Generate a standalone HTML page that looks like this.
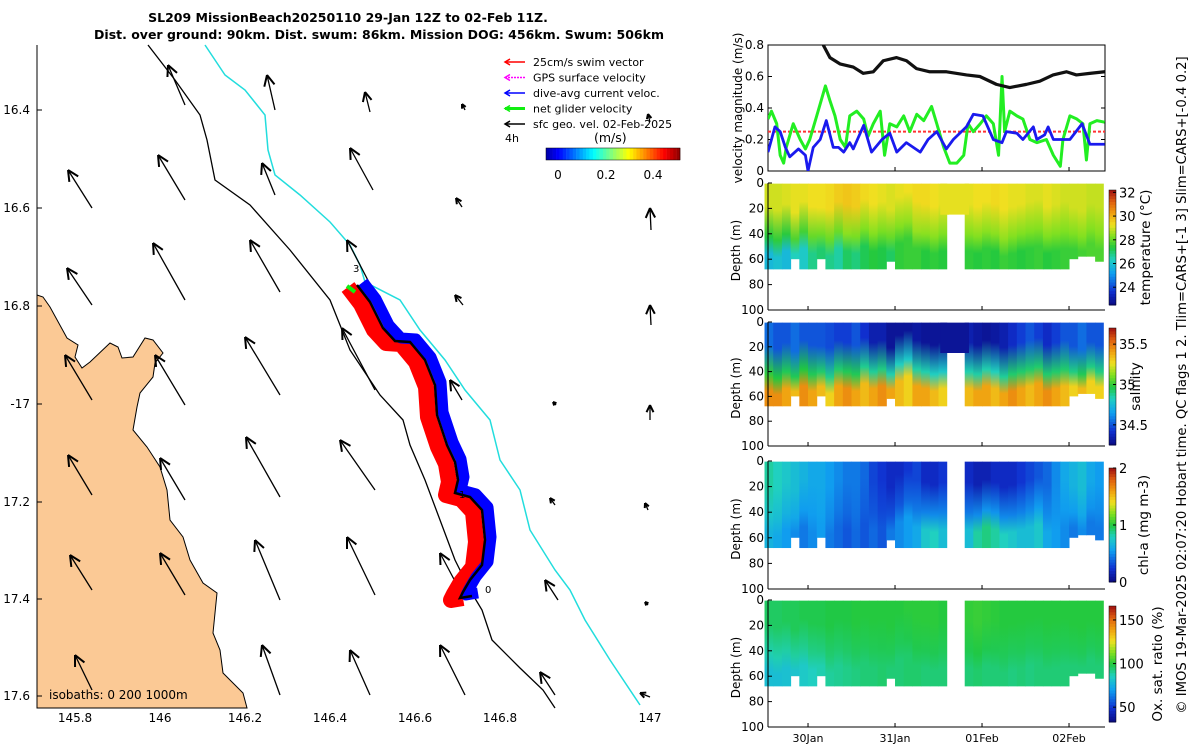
<!DOCTYPE html>
<html><head><meta charset="utf-8"><style>
body{margin:0;background:#fff;font-family:"DejaVu Sans","Liberation Sans",sans-serif}
svg text{font-family:"DejaVu Sans","Liberation Sans",sans-serif}
</style></head><body>
<svg id="s" width="1200" height="750" viewBox="0 0 1200 750" xmlns="http://www.w3.org/2000/svg">
<g font-weight="bold" font-size="12.5" text-anchor="middle">
<text x="348" y="22">SL209 MissionBeach20250110 29-Jan 12Z to 02-Feb 11Z.</text>
<text x="379" y="39">Dist. over ground: 90km. Dist. swum: 86km. Mission DOG: 456km. Swum: 506km</text>
</g>
<g id="map"></g>
<g id="ts"></g>
<g id="hm"></g>
<text transform="translate(1186,385) rotate(-90)" text-anchor="middle" font-size="13.2">© IMOS 19-Mar-2025 02:07:20 Hobart time. QC flags 1  2. Tlim=CARS+[-1 3] Slim=CARS+[-0.4 0.2]</text>
</svg>
<script>
// ---------- velocity time series data (days from 30-Jan 00Z) ----------
const tBlack=[0.175,0.252,0.367,0.52,0.635,0.75,0.865,1.018,1.132,1.247,1.40,1.592,1.822,1.975,2.166,2.319,2.51,2.664,2.817,2.97,3.085,3.238,3.41];
const vBlack=[0.8,0.72,0.68,0.66,0.62,0.63,0.70,0.72,0.70,0.65,0.63,0.63,0.61,0.60,0.55,0.53,0.55,0.57,0.61,0.63,0.61,0.62,0.63];
const tGreen=[-0.46,-0.42,-0.36,-0.32,-0.28,-0.25,-0.17,-0.09,-0.03,0.02,0.10,0.20,0.25,0.31,0.37,0.43,0.48,0.56,0.64,0.69,0.75,0.83,0.88,0.94,1.02,1.10,1.17,1.25,1.33,1.42,1.48,1.56,1.63,1.71,1.79,1.84,1.90,1.98,2.05,2.13,2.19,2.23,2.26,2.32,2.40,2.47,2.55,2.63,2.74,2.82,2.90,2.93,3.01,3.09,3.16,3.20,3.24,3.32,3.41];
const vGreen=[0.33,0.38,0.30,0.10,0.05,0.15,0.30,0.20,0.14,0.20,0.35,0.54,0.45,0.35,0.20,0.15,0.35,0.38,0.33,0.22,0.30,0.38,0.10,0.30,0.28,0.35,0.25,0.36,0.32,0.41,0.30,0.15,0.05,0.05,0.10,0.30,0.25,0.30,0.35,0.30,0.10,0.60,0.25,0.38,0.35,0.33,0.20,0.18,0.20,0.10,0.03,0.20,0.35,0.33,0.30,0.07,0.30,0.32,0.31];
const tBlue=[-0.46,-0.38,-0.32,-0.26,-0.21,-0.11,-0.03,0.00,0.06,0.14,0.21,0.29,0.35,0.41,0.48,0.52,0.64,0.73,0.85,0.94,1.02,1.13,1.29,1.38,1.48,1.59,1.67,1.82,1.90,2.01,2.13,2.23,2.28,2.40,2.47,2.59,2.63,2.72,2.76,2.82,2.90,3.01,3.15,3.24,3.41];
const vBlue=[0.12,0.28,0.25,0.15,0.09,0.14,0.10,0.00,0.15,0.20,0.32,0.15,0.15,0.12,0.18,0.14,0.29,0.12,0.20,0.24,0.12,0.18,0.12,0.20,0.25,0.14,0.20,0.28,0.36,0.35,0.20,0.18,0.25,0.24,0.20,0.28,0.20,0.23,0.28,0.20,0.20,0.20,0.30,0.17,0.17];
const swimSpeed=[0.25];
const vTicks=[0,0.2,0.4,0.6,0.8];
const dateTicks=[0,1,2,3];
const dateLabels=['30Jan','31Jan','01Feb','02Feb'];
// ---------- profile data (columns) ----------
const colT=[-0.45,-0.35,-0.25,-0.15,-0.05,0.05,0.15,0.25,0.35,0.45,0.55,0.65,0.75,0.85,0.95,1.05,1.15,1.25,1.35,1.45,1.55,1.85,1.95,2.05,2.15,2.25,2.35,2.45,2.55,2.65,2.75,2.85,2.95,3.05,3.15,3.25,3.35];
const mld=[42,45,40,44,38,42,40,44,38,40,42,36,40,38,42,34,30,38,40,42,40,40,42,38,40,44,42,40,38,36,42,40,38,40,42,36,40];
const bottom=[68,68,68,60,68,68,60,68,68,68,68,68,68,68,62,68,68,68,68,68,68,68,68,68,68,68,68,68,68,68,68,68,68,60,58,58,62];
const tempSurf=[29.0,29.0,29.1,29.2,29.2,29.3,29.3,29.4,29.6,29.7,29.6,29.4,29.3,29.2,29.1,29.2,29.3,29.4,29.4,29.3,29.2,29.2,29.3,29.3,29.4,29.3,29.2,29.2,29.1,29.1,29.2,29.1,29.0,29.0,29.0,28.9,28.9];
const tempDeep=[25.8,26.0,25.8,26.4,26.2,26.8,27.0,26.8,26.6,27.1,26.9,27.2,27.4,27.3,27.1,27.5,27.6,27.6,27.4,27.5,27.4,27.5,27.4,27.5,27.4,27.6,27.5,27.4,27.5,27.6,27.4,27.5,27.6,27.6,27.7,27.8,27.8];
const salSurf=[34.55,34.5,34.5,34.55,34.5,34.5,34.5,34.48,34.45,34.45,34.5,34.42,34.35,34.35,34.3,34.3,34.3,34.32,34.3,34.3,34.3,34.35,34.32,34.3,34.32,34.35,34.4,34.45,34.5,34.45,34.4,34.45,34.5,34.5,34.55,34.5,34.5];
const salDeep=[35.45,35.45,35.4,35.35,35.45,35.4,35.35,35.3,35.4,35.45,35.4,35.35,35.4,35.45,35.4,35.35,35.3,35.4,35.4,35.35,35.3,35.35,35.4,35.4,35.35,35.4,35.45,35.4,35.35,35.4,35.45,35.4,35.35,35.3,35.35,35.3,35.3];
const chlSurf=[0.85,0.8,0.75,0.7,0.65,0.6,0.6,0.55,0.5,0.45,0.45,0.4,0.3,0.25,0.2,0.2,0.25,0.3,0.2,0.2,0.25,0.2,0.15,0.15,0.2,0.2,0.2,0.25,0.3,0.35,0.4,0.5,0.6,0.65,0.7,0.6,0.55];
const chlDeep=[0.65,0.6,0.55,0.5,0.45,0.5,0.55,0.45,0.4,0.35,0.4,0.35,0.4,0.35,0.45,0.5,0.55,0.6,0.75,0.8,0.7,0.7,0.85,0.9,0.85,0.8,0.75,0.7,0.7,0.75,0.6,0.55,0.5,0.45,0.5,0.45,0.45];
const oxySurf=[96,96,97,97,98,98,98,99,99,99,100,100,100,100,100,100,101,101,101,101,100,102,103,102,101,100,100,100,100,100,100,100,100,100,100,100,100];
const oxyDeep=[80,80,81,82,84,86,88,90,91,92,93,94,94,95,94,94,95,95,94,94,94,94,95,94,94,94,93,94,93,94,94,94,94,94,94,94,94];
const gapT=[1.57,1.80];

const NS='http://www.w3.org/2000/svg';
function el(tag,attrs,parent){const e=document.createElementNS(NS,tag);for(const k in attrs)e.setAttribute(k,attrs[k]);parent.appendChild(e);return e;}
const cmapStops=[[0,[10,10,128]],[0.12,[16,48,208]],[0.28,[16,160,240]],[0.4,[32,208,192]],[0.5,[32,200,64]],[0.6,[128,224,32]],[0.7,[240,224,32]],[0.8,[240,160,16]],[0.9,[224,96,16]],[1,[160,16,16]]];
function jet(v){v=Math.max(0,Math.min(1,v));for(let i=1;i<cmapStops.length;i++){if(v<=cmapStops[i][0]){const a=cmapStops[i-1],b=cmapStops[i],f=(v-a[0])/(b[0]-a[0]);const c=a[1].map((x,k)=>Math.round(x+(b[1][k]-x)*f));return `rgb(${c[0]},${c[1]},${c[2]})`;}}return 'rgb(160,16,16)';}
function speedMap(v){v=Math.max(0,Math.min(1,v));const r=Math.max(0,Math.min(1,1.5-Math.abs(4*v-3))),g=Math.max(0,Math.min(1,1.5-Math.abs(4*v-2))),b=Math.max(0,Math.min(1,1.5-Math.abs(4*v-1)));return `rgb(${Math.round(r*255)},${Math.round(g*255)},${Math.round(b*255)})`;}
const X0=768,X1=1105;
function tx(t){return X0+(t+0.46)*87;}

// ---------- MAP ----------
const map=document.getElementById('map');
const coast=[[37,295],[43,297],[50,307],[67,338],[78,345],[75,357],[82,368],[90,362],[110,343],[118,347],[122,358],[133,357],[145,338],[153,340],[163,353],[155,363],[153,377],[140,393],[137,407],[133,430],[147,447],[160,467],[167,490],[170,520],[183,537],[190,560],[203,583],[217,593],[213,633],[220,650],[223,673],[243,693],[247,708],[37,708]];
let land=el('polygon',{points:coast.map(p=>p.join(',')).join(' '),fill:'#fbc995',stroke:'#000','stroke-width':1},map);

el('polyline',{points:'37,45 37,708',stroke:'#000','stroke-width':1,fill:'none'},map);
const iso200=[[148,45],[175,80],[200,115],[207,140],[215,180],[250,205],[290,250],[330,300],[350,350],[380,395],[403,420],[410,445],[425,480],[440,520],[455,560],[470,590],[482,610],[492,640],[520,668],[543,690],[555,708]];
let p1=el('polyline',{points:iso200.map(p=>p.join(',')).join(' '),stroke:'#000','stroke-width':1.3,fill:'none'},map);

const iso1000=[[205,45],[225,75],[245,90],[265,115],[268,150],[275,175],[300,195],[330,222],[350,245],[360,265],[365,282],[400,300],[420,330],[445,360],[465,390],[490,420],[500,460],[520,490],[530,530],[555,570],[570,590],[585,620],[610,660],[640,705]];
let p2=el('polyline',{points:iso1000.map(p=>p.join(',')).join(' '),stroke:'#22dddd','stroke-width':1.5,fill:'none'},map);

const arrows=[[185,105,168,65],[275,110,267,75],[370,112,365,92],[465,110,462,104],[650,122,648,114],
[92,208,68,170],[185,200,158,155],[275,195,262,163],[373,190,350,148],[462,207,456,198],[651,230,650,208],
[92,305,67,268],[185,300,153,243],[280,292,250,240],[373,290,347,240],[463,305,455,295],[651,325,650,305],
[92,400,65,355],[185,405,155,355],[280,395,245,337],[375,390,342,328],[462,400,450,380],[556,405,553,402],[650,420,650,405],
[92,495,68,455],[185,500,160,458],[280,497,246,437],[375,490,340,440],[465,497,447,470],[555,505,550,498],[648,510,645,503],
[92,590,70,555],[185,595,160,553],[280,600,255,540],[375,595,347,537],[465,600,440,553],[558,600,545,580],[648,605,645,602],
[92,690,75,655],[280,695,262,645],[370,695,350,650],[465,695,440,645],[555,695,540,672],[650,697,640,693]];
arrows.forEach(a=>{const g=el('g',{},map);

const dx=a[2]-a[0],dy=a[3]-a[1],L=Math.hypot(dx,dy),ux=dx/L,uy=dy/L,h=Math.min(12,L*0.4+2);
el('line',{x1:a[0],y1:a[1],x2:a[2],y2:a[3],stroke:'#000','stroke-width':1.3},g);
const ang=0.45;[ang,-ang].forEach(s=>{const c=Math.cos(s),sn=Math.sin(s);const bx=-(ux*c-uy*sn)*h,by=-(ux*sn+uy*c)*h;
el('line',{x1:a[2],y1:a[3],x2:a[2]+bx,y2:a[3]+by,stroke:'#000','stroke-width':2},g);});});
const track=[[357,285],[370,302],[383,328],[395,341],[410,342],[425,360],[435,385],[437,415],[447,445],[455,462],[458,480],[455,493],[470,497],[482,510],[485,540],[482,565],[470,580],[463,592],[460,598],[472,596]];
const tp=track.map(p=>p.join(',')).join(' ');
let tr=el('polyline',{points:track.map(p=>(p[0]-9)+','+(p[1]+2)).join(' '),stroke:'#f00','stroke-width':16,fill:'none','stroke-linejoin':'round'},map);

let tb=el('polyline',{points:track.map(p=>(p[0]+6)+','+(p[1]-3)).join(' '),stroke:'#00f','stroke-width':11,fill:'none','stroke-linejoin':'round'},map);

let tk=el('polyline',{points:tp,stroke:'#000','stroke-width':2.5,fill:'none'},map);

el('line',{x1:355,y1:292,x2:347,y2:286,stroke:'#1e1','stroke-width':4},map);
[['3',353,272],['1',459,498],['0',485,593]].forEach(d=>{el('text',{x:d[1],y:d[2],'font-size':10},map).textContent=d[0];});
[['145.8',75],['146',160],['146.2',245],['146.4',330],['146.6',415],['146.8',500],['147',650]].forEach(l=>{const t=el('text',{x:l[1],y:722,'font-size':12,'text-anchor':'middle'},map);t.textContent=l[0];});
[['16.4',114],['16.6',212],['16.8',310],['-17',408],['17.2',506],['17.4',603],['17.6',700]].forEach(l=>{const t=el('text',{x:30,y:l[1],'font-size':12,'text-anchor':'end'},map);t.textContent=l[0];el('line',{x1:37,x2:42,y1:l[1]-4,y2:l[1]-4,stroke:'#000'},map);});
let iso=el('text',{x:49,y:699,'font-size':12},map);iso.textContent='isobaths: 0   200  1000m';
const leg=[['25cm/s swim vector','#f00',''],['GPS surface velocity','#f0f','2,1'],['dive-avg current veloc.','#00f',''],['net glider velocity','#1e1',''],['sfc geo. vel. 02-Feb-2025','#000','']];
leg.forEach((l,i)=>{const g=el('g',{},map);
const y=62+i*15.5;el('line',{x1:505,x2:525,y1:y,y2:y,stroke:l[1],'stroke-width':i==3?3:1.5,'stroke-dasharray':l[2]},g);
el('polyline',{points:`510,${y-3} 505,${y} 510,${y+3}`,fill:'none',stroke:l[1],'stroke-width':1.5},g);
el('text',{x:533,y:y+4,'font-size':11},g).textContent=l[0];});
el('text',{x:505,y:142,'font-size':11},map).textContent='4h';
el('text',{x:594,y:142,'font-size':12.5},map).textContent='(m/s)';
const cb=el('g',{},map);
for(let i=0;i<40;i++)el('rect',{x:546+i*3.35,y:148,width:3.6,height:12,fill:speedMap(0.05+i/40*0.95)},cb);
el('rect',{x:546,y:148,width:134,height:12,fill:'none',stroke:'#000','stroke-width':0.5},cb);
[['0',558],['0.2',606],['0.4',653]].forEach(l=>{el('text',{x:l[1],y:179,'font-size':12,'text-anchor':'middle'},cb).textContent=l[0];});

// ---------- VELOCITY PANEL ----------
const ts=document.getElementById('ts');
const VY0=171,VY1=45;function vy(v){return VY0+(v/0.8)*(VY1-VY0);}
el('rect',{x:X0,y:VY1,width:X1-X0,height:VY0-VY1,fill:'#fff',stroke:'#000','stroke-width':1},ts);
const cp=el('clipPath',{id:'vclip'},ts);el('rect',{x:X0,y:VY1,width:X1-X0,height:VY0-VY1},cp);
vTicks.forEach(v=>{const t=el('text',{x:764,y:vy(v)+4,'font-size':12,'text-anchor':'end'},ts);t.textContent=v===0?'0':v.toFixed(1);el('line',{x1:X0,x2:X0+4,y1:vy(v),y2:vy(v),stroke:'#000'},ts);el('line',{x1:X1,x2:X1-4,y1:vy(v),y2:vy(v),stroke:'#000'},ts);});
dateTicks.forEach(d=>{el('line',{x1:tx(d),x2:tx(d),y1:VY0,y2:VY0-4,stroke:'#000'},ts);});
function series(tA,vA,col,w,name,dash){const p=el('polyline',{points:tA.map((t,i)=>tx(t)+','+vy(vA[i])).join(' '),fill:'none',stroke:col,'stroke-width':w,'clip-path':'url(#vclip)','stroke-dasharray':dash||'','stroke-linejoin':'round'},ts);}
const rl=el('line',{x1:X0,x2:X1,y1:vy(swimSpeed[0]),y2:vy(swimSpeed[0]),stroke:'#f33','stroke-width':2,'stroke-dasharray':'3,2'},ts);
series(tGreen,vGreen,'#22ee22',3,'net-glider-velocity-line');
series(tBlue,vBlue,'#1a1aee',2.8,'dive-avg-current-line');
series(tBlack,vBlack,'#111',3.2,'geo-velocity-line');
const vl=el('text',{transform:'translate(742,108) rotate(-90)','font-size':12,'text-anchor':'middle'},ts);vl.textContent='velocity magnitude (m/s)';

// ---------- PROFILE PANELS ----------
const hm=document.getElementById('hm');
const panels=[
 {name:'temperature',y0:183,y1:310,s:tempSurf,d:tempDeep,min:22.5,max:32.2,ticks:[24,26,28,30,32],cb0:190,cb1:305,label:'temperature (°C)',gap:25,lx:1150},
 {name:'salinity',y0:322,y1:446,s:salSurf,d:salDeep,min:34.25,max:35.7,ticks:[34.5,35,35.5],cb0:328,cb1:445,label:'salinity',gap:25,lx:1140},
 {name:'chl-a',y0:461,y1:589,s:chlSurf,d:chlDeep,min:0,max:2,ticks:[0,1,2],cb0:468,cb1:582,label:'chl-a (mg m-3)',gap:0,lx:1148},
 {name:'oxygen',y0:600,y1:727,s:oxySurf,d:oxyDeep,min:33,max:166,ticks:[50,100,150],cb0:606,cb1:722,label:'Ox. sat. ratio (%)',gap:0,lx:1162}];
panels.forEach((P,pi)=>{const g=el('g',{},hm);
 const dy=d=>P.y0+d/100*(P.y1-P.y0);
 const defs=el('defs',{},g);
 colT.forEach((t,i)=>{const id='g'+pi+'_'+i;const lg=el('linearGradient',{id:id,x1:0,y1:0,x2:0,y2:1},defs);
  const m=mld[i]/bottom[i];
  const sv=(P.s[i]-P.min)/(P.max-P.min),dv=(P.d[i]-P.min)/(P.max-P.min);
  el('stop',{offset:Math.max(0,m-0.35),'stop-color':jet(sv)},lg);
  el('stop',{offset:m,'stop-color':jet((sv+dv)/2)},lg);
  el('stop',{offset:Math.min(1,m+0.2),'stop-color':jet(dv)},lg);
  const w=(i+1<colT.length&&colT[i+1]-t<0.15)?(colT[i+1]-t)*87+0.5:0.1*87;
  const r=el('rect',{x:tx(t-0.05),y:dy(0.5),width:w,height:dy(bottom[i])-dy(0.5),fill:'url(#'+id+')'},g);
  });
 if(P.gap>0){const cgi=colT.findIndex(t=>t>gapT[0]);
  el('rect',{x:tx(gapT[0]-0.05),y:dy(0.5),width:(gapT[1]-gapT[0]+0.1)*87,height:dy(P.gap)-dy(0.5),fill:jet((P.s[cgi-1]-P.min)/(P.max-P.min))},g);}
 el('rect',{x:tx(1.62),y:dy(P.gap),width:tx(1.80)-tx(1.62),height:dy(70)-dy(P.gap),fill:'#fff'},g);
 el('line',{x1:X0,x2:X0,y1:P.y0,y2:P.y1,stroke:'#000'},g);el('line',{x1:X0,x2:X1,y1:P.y1,y2:P.y1,stroke:'#000'},g);
 [0,20,40,60,80,100].forEach(d=>{el('text',{x:764,y:dy(d)+4,'font-size':12,'text-anchor':'end'},g).textContent=d;el('line',{x1:X0,x2:X0+4,y1:dy(d),y2:dy(d),stroke:'#000'},g);});
 dateTicks.forEach(d=>{el('line',{x1:tx(d),x2:tx(d),y1:P.y1,y2:P.y1-4,stroke:'#000'},g);});
 const yl=el('text',{transform:`translate(740,${(P.y0+P.y1)/2+4}) rotate(-90)`,'font-size':12,'text-anchor':'middle'},g);yl.textContent='Depth (m)';
 const cbg=el('g',{},g);
 const n=40;for(let k=0;k<n;k++){el('rect',{x:1109,y:P.cb1-(k+1)*(P.cb1-P.cb0)/n,width:7,height:(P.cb1-P.cb0)/n+0.5,fill:jet((k+0.5)/n)},cbg);}
 el('rect',{x:1109,y:P.cb0,width:7,height:P.cb1-P.cb0,fill:'none',stroke:'#000','stroke-width':0.5},cbg);
 P.ticks.forEach(v=>{const y=P.cb1-(v-P.min)/(P.max-P.min)*(P.cb1-P.cb0);el('line',{x1:1113,x2:1116,y1:y,y2:y,stroke:'#000'},cbg);el('text',{x:1119,y:y+5,'font-size':13},cbg).textContent=v;});
 const cl=el('text',{transform:`translate(${P.lx},${(P.cb0+P.cb1)/2}) rotate(-90)`,'font-size':13.5,'text-anchor':'middle'},cbg);cl.textContent=P.label;
});
dateTicks.forEach((d,i)=>{const t=el('text',{x:tx(d),y:742,'font-size':11,'text-anchor':'middle'},hm);t.textContent=dateLabels[i];});
</script>
</body></html>
